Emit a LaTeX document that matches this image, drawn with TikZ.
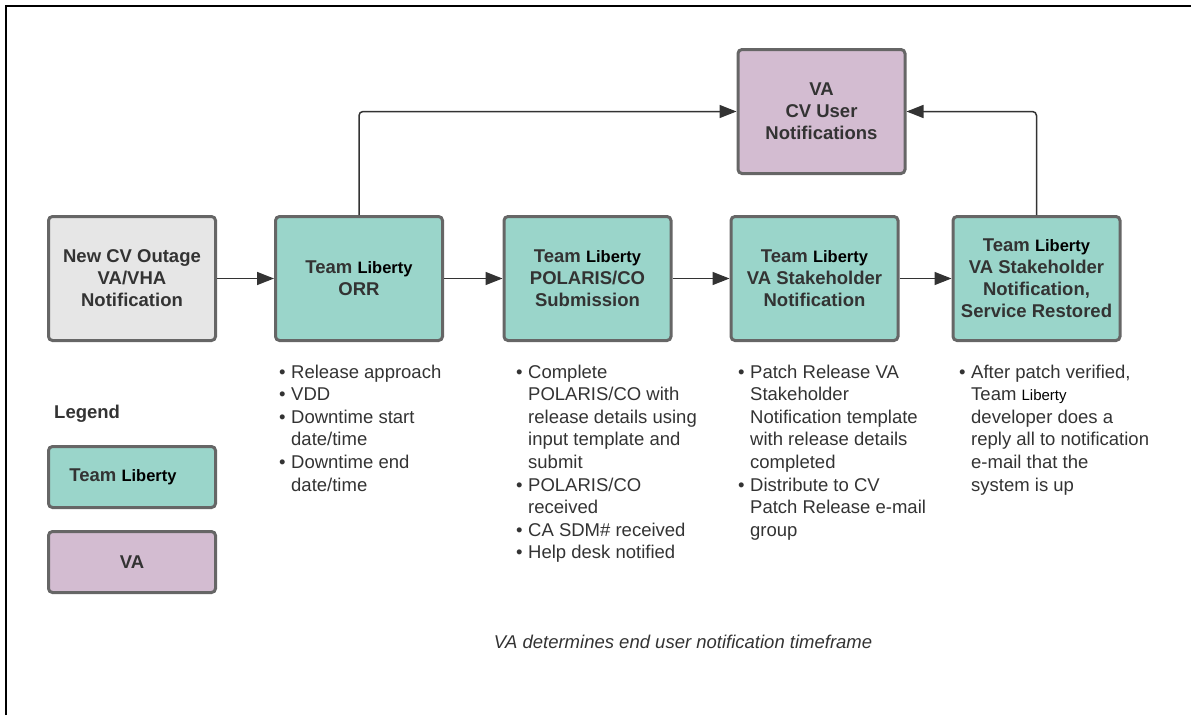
\documentclass[tikz,border=0pt]{standalone}
\usepackage{fontspec}
\setmainfont{Liberation Sans}
\usetikzlibrary{arrows.meta}
\definecolor{teal1}{HTML}{9AD5CA}
\definecolor{purp1}{HTML}{D3BCD1}
\definecolor{gray1}{HTML}{E6E6E6}
\definecolor{bord}{HTML}{666666}
\definecolor{txtc}{HTML}{333333}
\definecolor{arrc}{HTML}{333333}
\newcommand{\lib}{{\color{black}\fontsize{16.5}{22}\selectfont Liberty}}
\newcommand{\libs}{{\color{black}\fontsize{15}{22}\selectfont Liberty}}
\newcommand{\bul}{\makebox[12pt][l]{•}}
\newcommand{\ind}{\hspace*{12pt}}
\begin{document}
\begin{tikzpicture}[x=1pt,y=-1pt,
  boxbase/.style={rectangle, rounded corners=4pt, line width=3pt, draw=bord,
    minimum width=167pt, minimum height=124pt, inner sep=0pt, align=center,
    text=txtc, font=\bfseries\fontsize{18.5}{22}\selectfont},
  tealbox/.style={boxbase, fill=teal1},
  purpbox/.style={boxbase, fill=purp1},
  graybox/.style={boxbase, fill=gray1},
  legbox/.style={boxbase, minimum height=61pt},
  arr/.style={draw=arrc, line width=1.5pt, rounded corners=4pt, -{Triangle[length=17pt,width=13pt]}},
  bullets/.style={anchor=north west, inner sep=0pt, align=left, text=txtc,
    font=\fontsize{18.5}{22.6}\selectfont}
]
\useasboundingbox (0,0) rectangle (1191,715);
% outer frame
\draw[line width=2.5pt, black] (6,715) -- (6,6) -- (1195,6);

% main boxes
\node[graybox] (new) at (132,278.5) {New CV Outage\\VA/VHA\\Notification};
\node[tealbox] (orr) at (359,278.5) {Team \lib\\ORR};
\node[tealbox] (pol) at (587.5,278.5) {Team \lib\\POLARIS/CO\\Submission};
\node[tealbox] (vash) at (814.5,278.5) {Team \lib\\VA Stakeholder\\Notification};
\node[tealbox] (svc) at (1036.5,278.5) {Team \lib\\VA Stakeholder\\Notification,\\Service Restored};
\node[purpbox] (vacv) at (821.5,111.5) {VA\\CV User\\Notifications};

% connectors
\draw[arr] (new) -- (orr);
\draw[arr] (orr) -- (pol);
\draw[arr] (pol) -- (vash);
\draw[arr] (vash) -- (svc);
\draw[arr] (orr.north) |- (vacv.west);
\draw[arr] (svc.north) |- (vacv.east);

% bullet lists
\node[bullets] (l1) at (279,364.5) {\bul Release approach\\\bul VDD\\\bul Downtime start\\\ind date/time\\\bul Downtime end\\\ind date/time};
\node[bullets] (l2) at (516,364.5) {\bul Complete\\\ind POLARIS/CO with\\\ind release details using\\\ind input template and\\\ind submit\\\bul POLARIS/CO\\\ind received\\\bul CA SDM\# received\\\bul Help desk notified};
\node[bullets] (l3) at (738,364.5) {\bul Patch Release VA\\\ind Stakeholder\\\ind Notification template\\\ind with release details\\\ind completed\\\bul Distribute to CV\\\ind Patch Release e-mail\\\ind group};
\node[bullets] (l4) at (959,364.5) {\bul After patch verified,\\\ind Team \libs\\\ind developer does a\\\ind reply all to notification\\\ind e-mail that the\\\ind system is up};

% legend
\node[anchor=base west, inner sep=0pt, text=txtc, font=\bfseries\fontsize{18.5}{22}\selectfont] (leg) at (54,418) {Legend};
\node[tealbox, legbox] (legt) at (132,477) {Team \lib\hspace*{18pt}};
\node[purpbox, legbox] (legv) at (132,562) {VA};

% note
\node[inner sep=0pt, text=txtc, font=\itshape\fontsize{18.5}{22}\selectfont] (note) at (683,642) {VA determines end user notification timeframe};
\end{tikzpicture}
\end{document}
